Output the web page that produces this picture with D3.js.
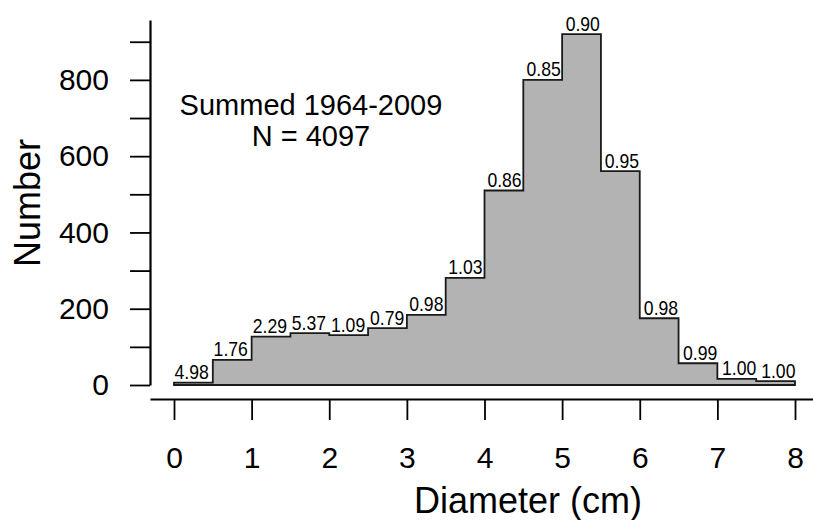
<!DOCTYPE html>
<html><head><meta charset="utf-8">
<script src="https://cdn.jsdelivr.net/npm/d3@7"></script>
<style>html,body{margin:0;padding:0;background:#fff;} svg{display:block;font-family:"Liberation Sans",Arial,Helvetica,sans-serif;}</style>
</head><body><svg id="chart" width="813" height="520"></svg>
<script>
// ---- data ----
const binStart = [0, 0.5, 1, 1.5, 2, 2.5, 3, 3.5, 4, 4.5, 5, 5.5, 6, 6.5, 7, 7.5];
const binWidth = 0.5;
const counts = [6, 66, 127, 136, 131, 149, 184, 281, 510, 800, 920, 561, 175, 57, 16, 10];
const ratioLabels = ["4.98", "1.76", "2.29", "5.37", "1.09", "0.79", "0.98", "1.03", "0.86", "0.85", "0.90", "0.95", "0.98", "0.99", "1.00", "1.00"];
const xTickValues = [0, 1, 2, 3, 4, 5, 6, 7, 8];
const yTickValues = [0, 100, 200, 300, 400, 500, 600, 700, 800, 900];
const yLabelValues = [0, 200, 400, 600, 800];
const annotation = ["Summed 1964-2009", "N = 4097"];
const xTitle = "Diameter (cm)";
const yTitle = "Number";

// ---- chart ----
const svg = d3.select("#chart");
const x = d3.scaleLinear().domain([0, 8]).range([174, 795]);
const y = d3.scaleLinear().domain([0, 957]).range([385, 20]);

// histogram outline polygon
const pts = [[binStart[0], 0]];
binStart.forEach((s, i) => { pts.push([s, counts[i]]); pts.push([s + binWidth, counts[i]]); });
pts.push([binStart[binStart.length - 1] + binWidth, 0]);
const line = d3.line().x(d => x(d[0])).y(d => y(d[1]));
svg.append("path")
  .attr("d", line(pts) + "Z")
  .attr("fill", "#b3b3b3")
  .attr("stroke", "#1a1a1a")
  .attr("stroke-width", 1.8)
  .attr("stroke-linejoin", "miter");

// bar labels (slightly condensed, left-aligned at each bin)
svg.append("g").selectAll("text").data(binStart).join("text")
  .attr("transform", (s, i) => `translate(${x(s) + 0.5 + i * 0.3},${y(counts[i]) - 3.5}) scale(0.88,1)`)
  .attr("text-anchor", "start")
  .attr("font-size", 20)
  .attr("fill", "#000")
  .text((s, i) => ratioLabels[i]);

// y axis
const yAxis = d3.axisLeft(y).tickValues(yTickValues).tickSize(20).tickSizeOuter(0).tickPadding(21)
  .tickFormat(d => yLabelValues.includes(d) ? String(d) : "");
const gy = svg.append("g").attr("transform", "translate(150,0)").call(yAxis);
gy.attr("font-family", null).attr("font-size", null);
gy.select(".domain").attr("stroke", "#000").attr("stroke-width", 2.2);
gy.selectAll(".tick line").attr("stroke", "#000").attr("stroke-width", 1.8);
gy.selectAll(".tick text").attr("font-size", 30).attr("fill", "#000");

// x axis
const xAx = x.copy().domain([x.invert(150), x.invert(813)]).range([150, 813]);
const xAxis = d3.axisBottom(xAx).tickValues(xTickValues).tickSize(21).tickSizeOuter(0).tickPadding(27)
  .tickFormat(d3.format("d"));
const gx = svg.append("g").attr("transform", "translate(0,399)").call(xAxis);
gx.attr("font-family", null).attr("font-size", null);
gx.select(".domain").attr("stroke", "#000").attr("stroke-width", 2.2);
gx.selectAll(".tick line").attr("stroke", "#000").attr("stroke-width", 1.8);
gx.selectAll(".tick text").attr("font-size", 30).attr("fill", "#000");

// axis titles
svg.append("text").attr("x", 528).attr("y", 513).attr("text-anchor", "middle")
  .attr("font-size", 36).attr("fill", "#000").text(xTitle);
svg.append("text").attr("transform", "translate(40,203) rotate(-90)").attr("text-anchor", "middle")
  .attr("font-size", 36).attr("fill", "#000").text(yTitle);

// annotation
svg.append("g").selectAll("text").data(annotation).join("text")
  .attr("x", 311).attr("y", (d, i) => 115 + i * 31)
  .attr("text-anchor", "middle").attr("font-size", 29).attr("fill", "#000")
  .text(d => d);
</script></body></html>
